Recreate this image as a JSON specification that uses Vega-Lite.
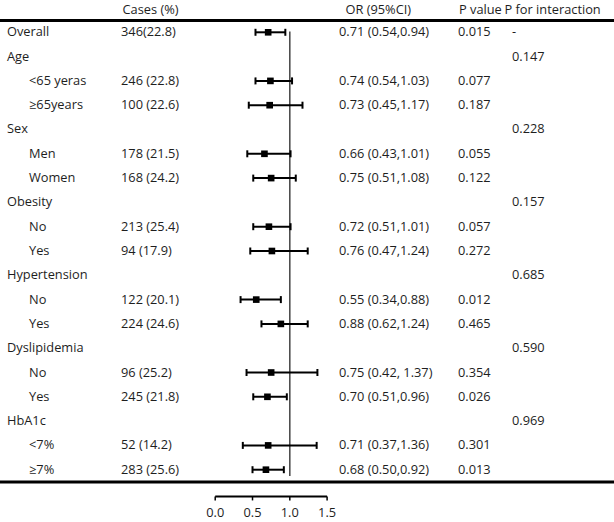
{
  "$schema": "https://vega.github.io/schema/vega-lite/v6.json",
  "width": 614,
  "height": 522,
  "padding": 0,
  "autosize": "none",
  "background": "white",
  "config": {
    "view": {"stroke": null},
    "text": {"font": "Open Sans", "fontSize": 12.8, "color": "#1e1e1e", "baseline": "middle", "align": "left"}
  },
  "datasets": {
    "rows": [
      {"row": 0, "label": "Overall", "cases": "346(22.8)", "or": "0.71 (0.54,0.94)", "p": "0.015", "pint": "-", "est": 0.71, "lo": 0.54, "hi": 0.94},
      {"row": 1, "label": "Age", "pint": "0.147"},
      {"row": 2, "sub": "<65 yeras", "cases": "246 (22.8)", "or": "0.74 (0.54,1.03)", "p": "0.077", "est": 0.74, "lo": 0.54, "hi": 1.03},
      {"row": 3, "sub": "≥65years", "cases": "100 (22.6)", "or": "0.73 (0.45,1.17)", "p": "0.187", "est": 0.73, "lo": 0.45, "hi": 1.17},
      {"row": 4, "label": "Sex", "pint": "0.228"},
      {"row": 5, "sub": "Men", "cases": "178 (21.5)", "or": "0.66  (0.43,1.01)", "p": "0.055", "est": 0.66, "lo": 0.43, "hi": 1.01},
      {"row": 6, "sub": "Women", "cases": "168 (24.2)", "or": "0.75 (0.51,1.08)", "p": "0.122", "est": 0.75, "lo": 0.51, "hi": 1.08},
      {"row": 7, "label": "Obesity", "pint": "0.157"},
      {"row": 8, "sub": "No", "cases": "213 (25.4)", "or": "0.72 (0.51,1.01)", "p": "0.057", "est": 0.72, "lo": 0.51, "hi": 1.01},
      {"row": 9, "sub": "Yes", "cases": "94 (17.9)", "or": "0.76 (0.47,1.24)", "p": "0.272", "est": 0.76, "lo": 0.47, "hi": 1.24},
      {"row": 10, "label": "Hypertension", "pint": "0.685"},
      {"row": 11, "sub": "No", "cases": "122 (20.1)", "or": "0.55 (0.34,0.88)", "p": "0.012", "est": 0.55, "lo": 0.34, "hi": 0.88},
      {"row": 12, "sub": "Yes", "cases": "224 (24.6)", "or": "0.88 (0.62,1.24)", "p": "0.465", "est": 0.88, "lo": 0.62, "hi": 1.24},
      {"row": 13, "label": "Dyslipidemia", "pint": "0.590"},
      {"row": 14, "sub": "No", "cases": "96 (25.2)", "or": "0.75 (0.42, 1.37)", "p": "0.354", "est": 0.75, "lo": 0.42, "hi": 1.37},
      {"row": 15, "sub": "Yes", "cases": "245 (21.8)", "or": "0.70 (0.51,0.96)", "p": "0.026", "est": 0.70, "lo": 0.51, "hi": 0.96},
      {"row": 16, "label": "HbA1c", "pint": "0.969"},
      {"row": 17, "sub": "<7%", "cases": "52 (14.2)", "or": "0.71 (0.37,1.36)", "p": "0.301", "est": 0.71, "lo": 0.37, "hi": 1.36},
      {"row": 18, "sub": "≥7%", "cases": "283 (25.6)", "or": "0.68 (0.50,0.92)", "p": "0.013", "est": 0.68, "lo": 0.50, "hi": 0.92}
    ],
    "ticks": [
      {"v": 0, "lab": "0.0"},
      {"v": 0.5, "lab": "0.5"},
      {"v": 1, "lab": "1.0"},
      {"v": 1.5, "lab": "1.5"}
    ],
    "header": [
      {"cases": "Cases (%)", "or": "OR (95%CI)", "p": "P value", "pint": "P for interaction"}
    ]
  },
  "data": {"name": "rows"},
  "layer": [
    {
      "data": {"values": [{}]},
      "mark": {"type": "rule", "strokeWidth": 3, "color": "#000"},
      "encoding": {"y": {"datum": -0.486, "type": "quantitative", "scale": {"domain": [-1.329, 20.152], "reverse": true, "nice": false, "zero": false}, "axis": null}}
    },
    {
      "data": {"values": [{}]},
      "mark": {"type": "rule", "strokeWidth": 3, "color": "#000"},
      "encoding": {"y": {"datum": 18.506, "type": "quantitative", "axis": null}}
    },
    {
      "data": {"values": [{}]},
      "mark": {"type": "rule", "strokeWidth": 1.5, "color": "#444"},
      "encoding": {
        "x": {"datum": 1, "type": "quantitative", "scale": {"domain": [-2.885, 5.346], "nice": false, "zero": false}, "axis": null},
        "y": {"datum": -0.03, "type": "quantitative", "axis": null},
        "y2": {"datum": 18.26}
      }
    },
    {
      "transform": [{"filter": "isValid(datum.est)"}],
      "mark": {"type": "rule", "strokeWidth": 2, "color": "#000"},
      "encoding": {
        "x": {"field": "lo", "type": "quantitative", "axis": null},
        "x2": {"field": "hi"},
        "y": {"field": "row", "type": "quantitative", "axis": null}
      }
    },
    {
      "transform": [{"filter": "isValid(datum.est)"}],
      "mark": {"type": "point", "shape": "M0,-1L0,1", "size": 49, "filled": false, "stroke": "#000", "strokeWidth": 2, "opacity": 1},
      "encoding": {
        "x": {"field": "lo", "type": "quantitative", "axis": null},
        "y": {"field": "row", "type": "quantitative", "axis": null}
      }
    },
    {
      "transform": [{"filter": "isValid(datum.est)"}],
      "mark": {"type": "point", "shape": "M0,-1L0,1", "size": 49, "filled": false, "stroke": "#000", "strokeWidth": 2, "opacity": 1},
      "encoding": {
        "x": {"field": "hi", "type": "quantitative", "axis": null},
        "y": {"field": "row", "type": "quantitative", "axis": null}
      }
    },
    {
      "transform": [{"filter": "isValid(datum.est)"}],
      "mark": {"type": "point", "shape": "square", "size": 44, "filled": true, "color": "#000", "opacity": 1},
      "encoding": {
        "x": {"field": "est", "type": "quantitative", "axis": null},
        "y": {"field": "row", "type": "quantitative", "axis": null}
      }
    },
    {
      "data": {"values": [{}]},
      "mark": {"type": "rule", "strokeWidth": 2, "color": "#000"},
      "encoding": {
        "x": {"datum": 0, "type": "quantitative", "axis": null},
        "x2": {"datum": 1.5},
        "y": {"datum": 19.1, "type": "quantitative", "axis": null}
      }
    },
    {
      "data": {"name": "ticks"},
      "mark": {"type": "point", "shape": "M0,0L0,1", "size": 64, "filled": false, "stroke": "#000", "strokeWidth": 1.5, "opacity": 1},
      "encoding": {
        "x": {"field": "v", "type": "quantitative", "axis": null},
        "y": {"datum": 19.1, "type": "quantitative", "axis": null}
      }
    },
    {
      "data": {"name": "ticks"},
      "mark": {"type": "text", "align": "center"},
      "encoding": {
        "x": {"field": "v", "type": "quantitative", "axis": null},
        "y": {"datum": 19.78, "type": "quantitative", "axis": null},
        "text": {"field": "lab"}
      }
    },
    {
      "transform": [{"filter": "isValid(datum.label)"}],
      "mark": {"type": "text"},
      "encoding": {"x": {"value": 7}, "y": {"field": "row", "type": "quantitative", "axis": null}, "text": {"field": "label"}}
    },
    {
      "transform": [{"filter": "isValid(datum.sub)"}],
      "mark": {"type": "text"},
      "encoding": {"x": {"value": 29}, "y": {"field": "row", "type": "quantitative", "axis": null}, "text": {"field": "sub"}}
    },
    {
      "transform": [{"filter": "isValid(datum.cases)"}],
      "mark": {"type": "text"},
      "encoding": {"x": {"value": 121}, "y": {"field": "row", "type": "quantitative", "axis": null}, "text": {"field": "cases"}}
    },
    {
      "transform": [{"filter": "isValid(datum.or)"}],
      "mark": {"type": "text"},
      "encoding": {"x": {"value": 339}, "y": {"field": "row", "type": "quantitative", "axis": null}, "text": {"field": "or"}}
    },
    {
      "transform": [{"filter": "isValid(datum.p)"}],
      "mark": {"type": "text"},
      "encoding": {"x": {"value": 458}, "y": {"field": "row", "type": "quantitative", "axis": null}, "text": {"field": "p"}}
    },
    {
      "transform": [{"filter": "isValid(datum.pint)"}],
      "mark": {"type": "text"},
      "encoding": {"x": {"value": 512}, "y": {"field": "row", "type": "quantitative", "axis": null}, "text": {"field": "pint"}}
    },
    {
      "data": {"name": "header"},
      "mark": {"type": "text"},
      "encoding": {"x": {"value": 122.5}, "y": {"datum": -0.918, "type": "quantitative", "axis": null}, "text": {"field": "cases"}}
    },
    {
      "data": {"name": "header"},
      "mark": {"type": "text"},
      "encoding": {"x": {"value": 345.5}, "y": {"datum": -0.918, "type": "quantitative", "axis": null}, "text": {"field": "or"}}
    },
    {
      "data": {"name": "header"},
      "mark": {"type": "text"},
      "encoding": {"x": {"value": 459}, "y": {"datum": -0.918, "type": "quantitative", "axis": null}, "text": {"field": "p"}}
    },
    {
      "data": {"name": "header"},
      "mark": {"type": "text"},
      "encoding": {"x": {"value": 504.5}, "y": {"datum": -0.918, "type": "quantitative", "axis": null}, "text": {"field": "pint"}}
    }
  ]
}
